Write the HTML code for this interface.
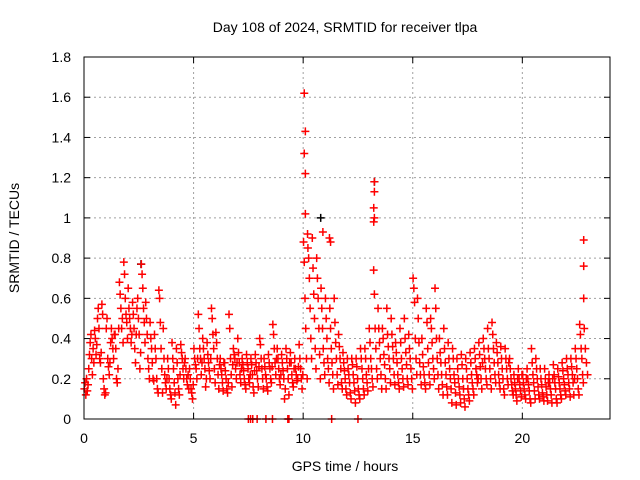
<!DOCTYPE html>
<html><head><meta charset="utf-8"><style>
html,body{margin:0;padding:0;background:#fff}
svg{display:block;font-family:"Liberation Sans",sans-serif}
</style></head><body>
<svg id="chart" width="640" height="480" viewBox="0 0 640 480"></svg>
<script>
const xTicks=[0,5,10,15,20];
const yTicks=[0,0.2,0.4,0.6,0.8,1,1.2,1.4,1.6,1.8];
const yTickLabels=["0","0.2","0.4","0.6","0.8","1","1.2","1.4","1.6","1.8"];
const binWidth=0.2;
const binValues=[
[0.15,0.18,0.12,0.2,0.14,0.17],[0.25,0.32,0.38,0.42,0.3,0.22],[0.35,0.28,0.44,0.4,0.32,0.37],[0.5,0.55,0.45,0.3,0.28,0.33],[0.57,0.52,0.2,0.15,0.12,0.13],
[0.45,0.5,0.3,0.26,0.22,0.28],[0.38,0.45,0.4,0.35,0.3,0.42],[0.42,0.35,0.2,0.18,0.25,0.45],[0.68,0.62,0.55,0.45,0.5,0.38],[0.78,0.72,0.6,0.52,0.48,0.4],
[0.65,0.55,0.5,0.45,0.38,0.42],[0.58,0.52,0.45,0.35,0.28,0.42],[0.55,0.6,0.5,0.42,0.25,0.33],[0.77,0.72,0.65,0.55,0.48,0.38],[0.58,0.5,0.42,0.3,0.25,0.2],
[0.48,0.4,0.35,0.28,0.2,0.19],[0.42,0.35,0.3,0.2,0.15,0.13],[0.64,0.6,0.48,0.35,0.25,0.13],[0.45,0.3,0.22,0.18,0.15,0.2],[0.3,0.25,0.2,0.15,0.12,0.1],
[0.38,0.3,0.25,0.18,0.13,0.07],[0.35,0.28,0.2,0.15,0.12,0.22],[0.37,0.33,0.3,0.25,0.2,0.28],[0.3,0.25,0.2,0.17,0.22,0.15],[0.25,0.2,0.15,0.13,0.1,0.17],
[0.35,0.3,0.27,0.25,0.2,0.3],[0.52,0.45,0.35,0.3,0.22,0.28],[0.4,0.35,0.3,0.25,0.16,0.2],[0.38,0.32,0.28,0.24,0.2,0.3],[0.55,0.5,0.42,0.35,0.25,0.18],
[0.43,0.38,0.3,0.22,0.15,0.27],[0.3,0.25,0.22,0.18,0.14,0.28],[0.28,0.24,0.2,0.15,0.13,0.18],[0.52,0.45,0.3,0.22,0.16,0.27],[0.35,0.32,0.3,0.25,0.2,0.28],
[0.4,0.33,0.28,0.22,0.18,0.25],[0.3,0.27,0.24,0.2,0.17,0.15],[0.32,0.28,0.25,0.2,0.18,0.22],[0.3,0.27,0.22,0.16,0.13,0.24],[0.32,0.28,0.24,0.2,0.16,0.26],
[0.4,0.37,0.3,0.25,0.2,0.15],[0.3,0.26,0.22,0.2,0.16,0.14],[0.32,0.28,0.25,0.2,0.18,0.26],[0.47,0.42,0.35,0.28,0.22,0.3],[0.35,0.3,0.25,0.2,0.17,0.22],
[0.32,0.28,0.24,0.2,0.1,0.15],[0.35,0.3,0.25,0.2,0.12,0.28],[0.33,0.28,0.22,0.18,0.16,0.25],[0.3,0.25,0.22,0.19,0.2,0.26],[0.37,0.3,0.25,0.2,0.15,0.22],
[0.88,0.78,0.6,0.45,0.3,0.2],[0.85,0.8,0.7,0.55,0.4,0.3],[0.9,0.75,0.62,0.5,0.35,0.25],[0.8,0.7,0.6,0.45,0.32,0.2],[0.65,0.55,0.45,0.35,0.28,0.22],
[0.6,0.5,0.4,0.3,0.25,0.18],[0.55,0.45,0.35,0.28,0.22,0.15],[0.6,0.48,0.38,0.3,0.22,0.17],[0.42,0.36,0.3,0.25,0.18,0.15],[0.33,0.28,0.24,0.2,0.15,0.12],
[0.3,0.25,0.22,0.18,0.13,0.1],[0.3,0.27,0.22,0.18,0.14,0.08],[0.3,0.26,0.2,0.15,0.12,0.1],[0.35,0.3,0.25,0.2,0.15,0.12],[0.35,0.3,0.22,0.18,0.14,0.25],
[0.45,0.38,0.3,0.25,0.2,0.16],[0.74,0.62,0.45,0.35,0.25,0.2],[0.55,0.45,0.38,0.3,0.22,0.15],[0.45,0.4,0.32,0.27,0.2,0.15],[0.55,0.42,0.36,0.3,0.25,0.18],
[0.5,0.42,0.36,0.3,0.22,0.17],[0.38,0.33,0.28,0.22,0.18,0.15],[0.45,0.38,0.3,0.25,0.2,0.16],[0.5,0.4,0.33,0.27,0.2,0.17],[0.42,0.35,0.3,0.25,0.2,0.15],
[0.7,0.65,0.58,0.4,0.3,0.22],[0.6,0.5,0.38,0.28,0.22,0.17],[0.4,0.32,0.26,0.22,0.18,0.15],[0.55,0.48,0.35,0.28,0.22,0.17],[0.5,0.45,0.38,0.3,0.25,0.2],
[0.65,0.55,0.4,0.3,0.22,0.15],[0.4,0.33,0.28,0.22,0.17,0.12],[0.45,0.35,0.28,0.22,0.16,0.12],[0.38,0.3,0.25,0.2,0.15,0.08],[0.35,0.3,0.22,0.18,0.13,0.07],
[0.3,0.25,0.2,0.16,0.12,0.08],[0.32,0.27,0.2,0.15,0.1,0.06],[0.3,0.25,0.2,0.15,0.12,0.09],[0.33,0.28,0.22,0.18,0.15,0.12],[0.35,0.3,0.25,0.22,0.18,0.2],
[0.38,0.32,0.26,0.2,0.15,0.28],[0.4,0.35,0.3,0.25,0.2,0.17],[0.45,0.35,0.3,0.25,0.2,0.15],[0.48,0.42,0.35,0.28,0.22,0.18],[0.38,0.33,0.28,0.22,0.18,0.15],
[0.36,0.3,0.25,0.2,0.15,0.12],[0.35,0.3,0.25,0.2,0.17,0.28],[0.3,0.25,0.2,0.17,0.14,0.12],[0.22,0.18,0.15,0.12,0.09,0.2],[0.25,0.2,0.17,0.14,0.11,0.22],
[0.22,0.18,0.15,0.12,0.1,0.2],[0.25,0.2,0.17,0.14,0.1,0.08],[0.35,0.28,0.22,0.18,0.14,0.1],[0.3,0.25,0.2,0.16,0.12,0.1],[0.25,0.2,0.17,0.13,0.11,0.09],
[0.25,0.2,0.16,0.12,0.09,0.18],[0.22,0.18,0.15,0.12,0.08,0.2],[0.27,0.22,0.18,0.15,0.1,0.08],[0.25,0.21,0.18,0.15,0.12,0.1],[0.28,0.24,0.2,0.17,0.14,0.12],
[0.3,0.25,0.22,0.18,0.15,0.11],[0.3,0.26,0.22,0.18,0.12,0.2],[0.35,0.3,0.25,0.2,0.15,0.12],[0.47,0.42,0.35,0.3,0.22,0.18],[0.45,0.35,0.28,0.22]
];
const outlierTimes=[10.05,10.1,10.05,10.1,10.1,13.25,13.25,13.22,13.25,13.22,11.2,11.25,22.8,22.8,22.8,10.2,10.9];
const outlierValues=[1.62,1.43,1.32,1.22,1.02,1.18,1.13,1.05,1.0,0.98,0.9,0.88,0.89,0.76,0.6,0.92,0.93];
const blackTimes=[2.6,10.8,13.25];
const blackValues=[0.77,1.0,1.18];
const zeroTimes=[7.5,7.6,7.7,7.9,8.3,8.6,9.3,9.35,11.3,12.5];

const svg=document.getElementById('chart');
const NS='http://www.w3.org/2000/svg';
const X0=84,X1=610,Y0=419,Y1=57;
const xs=t=>X0+t/24*(X1-X0);
const ys=v=>Y0-v/1.8*(Y0-Y1);
function mk(tag,attrs){const e=document.createElementNS(NS,tag);for(const k in attrs)e.setAttribute(k,attrs[k]);svg.appendChild(e);return e;}

yTicks.forEach((v,i)=>{
  if(v>0&&v<1.8){const g=mk('line',{x1:X0,x2:X1,y1:ys(v),y2:ys(v),stroke:'#a0a0a0','stroke-dasharray':'2,3','stroke-width':1});
  
  }
  const tl=mk('line',{x1:X0,x2:X0+6,y1:ys(v),y2:ys(v),stroke:'#000'});
  
  
  const tr=mk('line',{x1:X1-6,x2:X1,y1:ys(v),y2:ys(v),stroke:'#000'});
  
  
  const t=mk('text',{x:71,y:ys(v)+5,'text-anchor':'end','font-size':14,fill:'#000'});
  t.textContent=yTickLabels[i];
  
  
});
xTicks.forEach(v=>{
  if(v>0){const g=mk('line',{x1:xs(v),x2:xs(v),y1:Y0,y2:Y1,stroke:'#a0a0a0','stroke-dasharray':'2,3','stroke-width':1});
  
  }
  const tb=mk('line',{x1:xs(v),x2:xs(v),y1:Y0,y2:Y0-6,stroke:'#000'});
  
  
  const tt=mk('line',{x1:xs(v),x2:xs(v),y1:Y1,y2:Y1+6,stroke:'#000'});
  
  
  const t=mk('text',{x:xs(v),y:443,'text-anchor':'middle','font-size':14,fill:'#000'});
  t.textContent=String(v);
  
  
});

function plus(t,v,color,name){
  const x=xs(t),y=ys(v);
  const p=mk('path',{d:`M${x-4} ${y}H${x+4}M${x} ${y-4}V${y+4}`,stroke:color,'stroke-width':1.5,fill:'none'});
  
  
}
blackTimes.forEach((t,i)=>plus(t,blackValues[i],'#000','black-point'));
binValues.forEach((vals,i)=>{
  vals.forEach((v,j)=>{plus(i*binWidth+(j+0.5)*binWidth/vals.length,v,'#ff0000','srmtid-point');});
});
outlierTimes.forEach((t,i)=>plus(t,outlierValues[i],'#ff0000','outlier-point'));
zeroTimes.forEach(t=>plus(t,0,'#ff0000','zero-point'));

const frame=mk('rect',{x:X0,y:Y1,width:X1-X0,height:Y0-Y1,fill:'none',stroke:'#000','stroke-width':1});



const title=mk('text',{x:345,y:32,'text-anchor':'middle','font-size':14,fill:'#000'});
title.textContent='Day 108 of 2024, SRMTID for receiver tlpa';


const xl=mk('text',{x:345,y:471,'text-anchor':'middle','font-size':14,fill:'#000'});
xl.textContent='GPS time / hours';


const yl=mk('text',{x:0,y:0,'text-anchor':'middle','font-size':14,fill:'#000',transform:'translate(19,238) rotate(-90)'});
yl.textContent='SRMTID / TECUs';


</script>
</body></html>
